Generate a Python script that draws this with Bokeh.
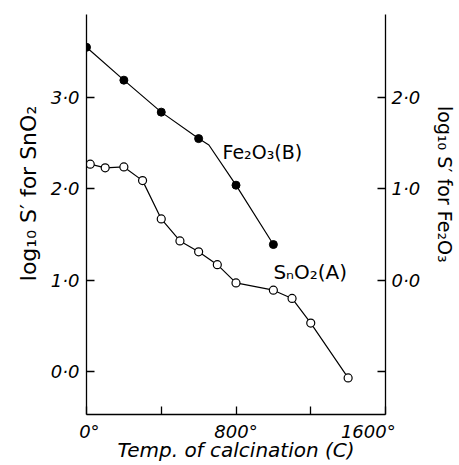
from bokeh.plotting import figure
from bokeh.models import Range1d, LinearAxis, FixedTicker, Label
from bokeh.embed import file_html
from bokeh.resources import INLINE

# SnO2 (A), left axis: log10 S'
sn_temp = [20, 100, 200, 300, 400, 500, 600, 700, 800, 1000, 1100, 1200, 1400]
sn_log = [2.27, 2.23, 2.24, 2.09, 1.67, 1.43, 1.31, 1.17, 0.97, 0.89, 0.80, 0.53, -0.07]

# Fe2O3 (B), right axis: log10 S'
fe_temp = [0, 200, 400, 600, 800, 1000]
fe_log = [2.55, 2.19, 1.84, 1.55, 1.04, 0.39]
# hand-drawn curve for Fe2O3 (bends just after 600)
fe_curve_temp = [0, 200, 400, 600, 655, 800, 1000]
fe_curve_log = [2.55, 2.19, 1.84, 1.55, 1.48, 1.04, 0.39]

NB = "\u00a0"
x_ticks = [0, 400, 800, 1200, 1600]
x_tick_labels = {0: NB + "0°", 400: "", 800: "800°", 1200: "", 1600: "1600°" + NB * 6}
left_ticks = [0, 1, 2, 3]
left_tick_labels = {0: "0·0", 1: "1·0", 2: "2·0", 3: "3·0"}
right_ticks = [-1, 0, 1, 2]
right_tick_labels = {-1: "", 0: "0·0", 1: "1·0", 2: "2·0"}
x_title = "Temp. of calcination (C)"

FONT = "DejaVu Sans"

p = figure(width=459, height=465, output_backend="svg", toolbar_location=None,
           x_range=Range1d(0, 1600), y_range=Range1d(-0.471, 3.909),
           min_border_left=86, min_border_right=72, min_border_top=14, min_border_bottom=51)
p.outline_line_color = None
p.grid.visible = False
p.background_fill_color = "white"
p.extra_y_ranges = {"fe": Range1d(-1.471, 2.909)}

# x axis
xa = p.xaxis[0]
xa.ticker = FixedTicker(ticks=x_ticks)
xa.major_label_overrides = x_tick_labels
xa.axis_label = x_title

# left axis
ya = p.yaxis[0]
ya.ticker = FixedTicker(ticks=left_ticks)
ya.major_label_overrides = left_tick_labels
ya.axis_label = NB * 6 + "log₁₀ S′ for SnO₂"

# right axis
ra = LinearAxis(y_range_name="fe", ticker=FixedTicker(ticks=right_ticks))
ra.major_label_overrides = right_tick_labels
ra.axis_label = "log₁₀ S′ for Fe₂O₃" + NB * 10
p.add_layout(ra, "right")

for ax in [xa, ya, ra]:
    ax.axis_line_color = "black"
    ax.axis_line_width = 1.3
    ax.major_tick_in = 8
    ax.major_tick_out = 0
    ax.major_tick_line_width = 1.3
    ax.minor_tick_line_color = None
    ax.major_label_text_font = FONT
    ax.major_label_text_font_style = "italic"
    ax.major_label_text_color = "black"
    ax.axis_label_text_font = FONT
    ax.axis_label_text_font_style = "normal"
    ax.axis_label_text_color = "black"

xa.major_label_text_font_size = "18px"
xa.major_label_text_line_height = 1.0
xa.major_label_standoff = 6
xa.axis_label_text_font_size = "20px"
xa.axis_label_text_line_height = 1.0
xa.axis_label_text_font_style = "italic"
xa.axis_label_standoff = -7

ya.major_label_text_font_size = "18px"
ya.major_label_standoff = 7
ya.axis_label_text_font_size = "22px"
ya.axis_label_standoff = 7

ra.major_label_text_font_size = "18px"
ra.major_label_standoff = 6
ra.axis_label_text_font_size = "19px"
ra.axis_label_standoff = 11

# curves
p.line(sn_temp, sn_log, line_color="black", line_width=1.2)
p.scatter(sn_temp, sn_log, size=8, marker="circle", fill_color="white", line_color="black", line_width=1.2)

p.line(fe_curve_temp, fe_curve_log, y_range_name="fe", line_color="black", line_width=1.2)
p.scatter(fe_temp, fe_log, y_range_name="fe", size=8, marker="circle", fill_color="black", line_color="black")

p.add_layout(Label(x=728, y=1.40, y_range_name="fe", text="Fe₂O₃(B)", text_baseline="middle",
                   text_font=FONT, text_font_size="19px", text_color="black"))
p.add_layout(Label(x=1000, y=1.09, text="SₙO₂(A)", text_baseline="middle",
                   text_font=FONT, text_font_size="20px", text_color="black"))

open("out.html", "w").write(file_html(p, INLINE))
